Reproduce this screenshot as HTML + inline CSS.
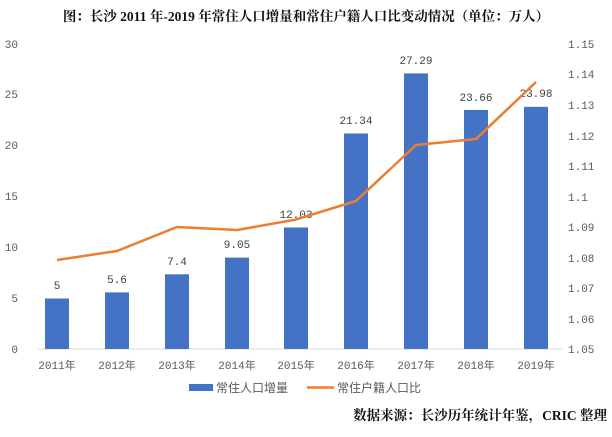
<!DOCTYPE html>
<html><head><meta charset="utf-8"><style>
body{margin:0;background:#fff;}
svg text{font-family:"Liberation Mono","Noto Sans CJK SC",monospace;}
</style></head><body>
<svg width="612" height="432" xmlns="http://www.w3.org/2000/svg">
<text x="306" y="21" text-anchor="middle" font-size="13.5" font-weight="bold" fill="#111" style="font-family:'Liberation Serif','Noto Serif CJK SC',serif">图：长沙 2011 年-2019 年常住人口增量和常住户籍人口比变动情况（单位：万人）</text>
<g font-size="11" fill="#595959">
<text x="18" y="48" text-anchor="end">30</text>
<text x="18" y="98" text-anchor="end">25</text>
<text x="18" y="149" text-anchor="end">20</text>
<text x="18" y="200" text-anchor="end">15</text>
<text x="18" y="251" text-anchor="end">10</text>
<text x="18" y="302" text-anchor="end">5</text>
<text x="18" y="353" text-anchor="end">0</text>
<g text-anchor="start">
<text x="568" y="48">1.15</text><text x="568" y="78">1.14</text><text x="568" y="109">1.13</text>
<text x="568" y="140">1.12</text><text x="568" y="170">1.11</text><text x="568" y="201">1.1</text>
<text x="568" y="231">1.09</text><text x="568" y="262">1.08</text><text x="568" y="292">1.07</text>
<text x="568" y="323">1.06</text><text x="568" y="353">1.05</text>
</g>
</g>
<line x1="38" y1="349" x2="562" y2="349" stroke="#d9d9d9" stroke-width="1"/>
<g fill="#4472c4">
<rect x="45" y="298.5" width="24" height="50.5"/>
<rect x="105" y="292.4" width="24" height="56.6"/>
<rect x="165" y="274.3" width="24" height="74.7"/>
<rect x="225" y="257.6" width="24" height="91.4"/>
<rect x="284" y="227.5" width="24" height="121.5"/>
<rect x="344" y="133.5" width="24" height="215.5"/>
<rect x="404" y="73.4" width="24" height="275.6"/>
<rect x="464" y="110" width="24" height="239"/>
<rect x="524" y="106.8" width="24" height="242.2"/>
</g>
<g font-size="11" fill="#404040" text-anchor="middle">
<text x="57" y="289">5</text><text x="117" y="283">5.6</text><text x="177" y="265">7.4</text>
<text x="237" y="248">9.05</text><text x="296" y="218">12.03</text><text x="356" y="124">21.34</text>
<text x="416" y="64">27.29</text><text x="476" y="101">23.66</text><text x="536" y="97">23.98</text>
</g>
<polyline fill="none" stroke="#ed7d31" stroke-width="2.5" stroke-linejoin="round" points="57,260 117,251 177,227 237,230 296,219.5 356,201 416,145 476,139 536,82"/>
<g font-size="11" fill="#595959" text-anchor="middle">
<text x="57" y="369">2011年</text><text x="117" y="369">2012年</text><text x="177" y="369">2013年</text>
<text x="237" y="369">2014年</text><text x="296" y="369">2015年</text><text x="356" y="369">2016年</text>
<text x="416" y="369">2017年</text><text x="476" y="369">2018年</text><text x="536" y="369">2019年</text>
</g>
<rect x="189" y="384" width="24" height="7" fill="#4472c4"/>
<text x="216" y="392" font-size="12" fill="#595959">常住人口增量</text>
<line x1="307" y1="387.5" x2="334" y2="387.5" stroke="#ed7d31" stroke-width="2.5"/>
<text x="337" y="392" font-size="12" fill="#595959">常住户籍人口比</text>
<text x="607" y="420" text-anchor="end" font-size="13.5" font-weight="bold" fill="#111" style="font-family:'Liberation Serif','Noto Serif CJK SC',serif">数据来源：长沙历年统计年鉴，CRIC 整理</text>
</svg>
</body></html>
